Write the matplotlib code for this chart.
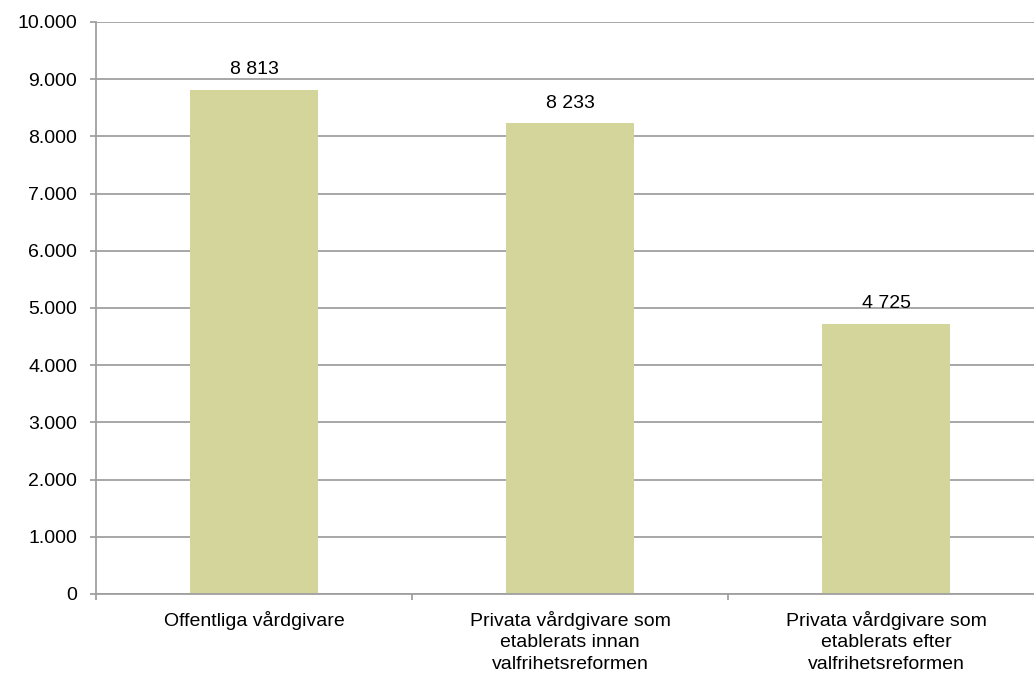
import numpy as np
import matplotlib.pyplot as plt
from matplotlib.ticker import FuncFormatter, FixedLocator

plt.rcParams['font.family'] = ['Liberation Sans', 'DejaVu Sans']

categories = ["Offentliga vårdgivare",
              "Privata vårdgivare som\netablerats innan\nvalfrihetsreformen",
              "Privata vårdgivare som\netablerats efter\nvalfrihetsreformen"]
values = [8813, 8233, 4725]
yticks = list(range(0, 10001, 1000))

fs = 14

fig = plt.figure(figsize=(10.34, 6.77), dpi=100)
ax = fig.add_axes([96 / 1034, 1 - 594 / 677, 948 / 1034, 572 / 677])

x = np.arange(len(categories))
ax.bar(x, values, width=0.405, color="#D3D59A", zorder=2)

for xi, v in zip(x, values):
    ax.text(xi, v + 200, f"{v:,}".replace(",", " "), ha="center", va="bottom",
            fontsize=fs, color="black")

ax.set_xlim(-0.5, len(categories) - 0.5)
ax.set_ylim(0, 10000)
ax.set_yticks(yticks)
ax.yaxis.set_major_formatter(FuncFormatter(lambda v, p: f"{int(v):,}".replace(",", ".")))
ax.grid(axis="y", color="#A0A0A0", linewidth=1.3, zorder=0)

ax.set_xticks(x)
ax.set_xticklabels(categories, fontsize=fs, linespacing=1.36)
ax.xaxis.set_minor_locator(FixedLocator(np.arange(-0.5, len(categories), 1.0)))
ax.tick_params(axis="x", which="major", length=0, pad=12)
ax.tick_params(axis="x", which="minor", length=4.5, width=1.3, color="#A0A0A0")
ax.tick_params(axis="y", length=4.5, width=1.3, color="#A0A0A0", labelsize=fs, pad=9)

for s in ["top", "right"]:
    ax.spines[s].set_visible(False)
for s in ["left", "bottom"]:
    ax.spines[s].set_color("#A0A0A0")
    ax.spines[s].set_linewidth(1.3)

fig.savefig("out.png", dpi=100)
